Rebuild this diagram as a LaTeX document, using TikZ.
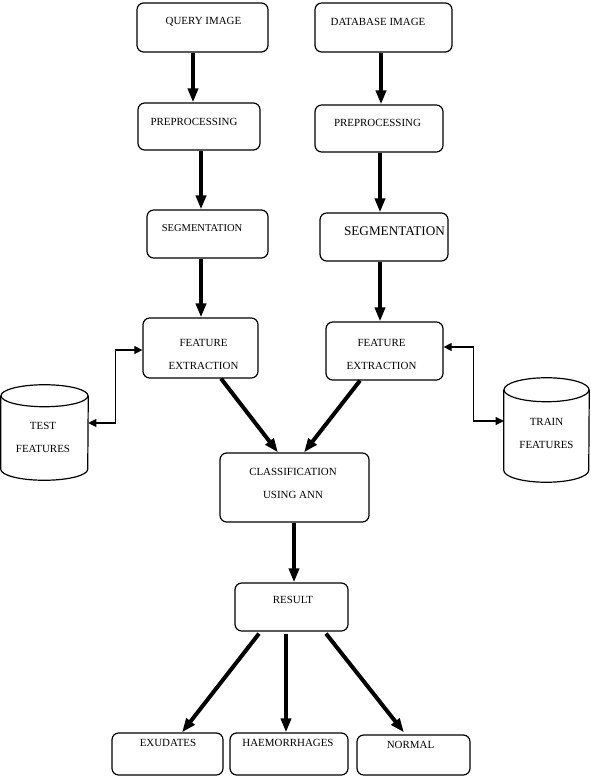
\documentclass[tikz,border=0pt]{standalone}
\usepackage{fontspec}
\setmainfont{Liberation Serif}
\usetikzlibrary{calc,arrows.meta}
\begin{document}
\begin{tikzpicture}[x=0.75pt,y=-0.75pt,
  box/.style={draw=black,line width=0.9pt,rounded corners=5pt,inner sep=0pt},
  txt/.style={inner sep=0pt,align=center,font=\fontsize{8.2}{17.25}\selectfont},
  big/.style={inner sep=0pt,font=\fontsize{9.9}{12}\selectfont},
  thk/.style={line width=3pt,-{Triangle[length=10.5pt,width=7.5pt]}},
  dbl/.style={line width=0.8pt,{Triangle[length=6pt,width=6pt]}-{Triangle[length=6pt,width=6pt]}},
  cylb/.style={inner sep=0pt}]
\useasboundingbox (0,0) rectangle (591,777);
% boxes
\node[box,minimum width=98.25pt,minimum height=36.75pt] (q) at (202.5,27.5) {};
\node[box,minimum width=102.75pt,minimum height=36.75pt] (d) at (383.5,27.5) {};
\node[box,minimum width=91.5pt,minimum height=35.25pt] (pl) at (199,126.5) {};
\node[box,minimum width=96pt,minimum height=35.25pt] (pr) at (379,128.5) {};
\node[box,minimum width=90.75pt,minimum height=36pt] (sl) at (207.5,234) {};
\node[box,minimum width=96pt,minimum height=36pt] (sr) at (384,237) {};
\node[box,minimum width=86.25pt,minimum height=45pt] (fel) at (200.5,348) {};
\node[box,minimum width=87.75pt,minimum height=43.5pt] (fer) at (384.5,351) {};
\node[box,minimum width=111.75pt,minimum height=51.75pt] (cls) at (294.5,487.5) {};
\node[box,minimum width=84.75pt,minimum height=36pt] (res) at (291.5,607) {};
\node[box,minimum width=83.25pt,minimum height=31.5pt] (ex) at (167.5,754) {};
\node[box,minimum width=88.5pt,minimum height=31.5pt] (ha) at (289,754) {};
\node[box,minimum width=84.75pt,minimum height=30pt] (no) at (413.5,755) {};
% cylinders
\node[cylb,minimum width=65.25pt,minimum height=71.25pt] (testc) at (44.5,432.5) {};
\node[cylb,minimum width=63.75pt,minimum height=78pt] (trainc) at (546.5,430) {};
\draw[line width=0.9pt] ($(testc.north west)+(0,11)$) -- ($(testc.south west)+(0,-11)$)
  arc[start angle=180,end angle=0,x radius=43.5,y radius=11] -- ($(testc.north east)+(0,11)$);
\draw[line width=0.9pt] ($(testc.north)+(0,11)$) ellipse[x radius=43.5,y radius=11];
\draw[line width=0.9pt] ($(trainc.north west)+(0,12)$) -- ($(trainc.south west)+(0,-12)$)
  arc[start angle=180,end angle=0,x radius=42.5,y radius=12] -- ($(trainc.north east)+(0,12)$);
\draw[line width=0.9pt] ($(trainc.north)+(0,12)$) ellipse[x radius=42.5,y radius=12];
% texts
\node[txt] (tq) at (203.5,22) {QUERY IMAGE};
\node[txt] (td) at (378,22) {DATABASE IMAGE};
\node[txt] (tpl) at (194,122) {PREPROCESSING};
\node[txt] (tpr) at (377.5,123) {PREPROCESSING};
\node[txt,font=\fontsize{7.9}{9}\selectfont] (tsl) at (202,228) {SEGMENTATION};
\node[big] (tsr) at (394.5,231) {SEGMENTATION};
\node[txt] (tfel) at (203.5,354.5) {FEATURE\\EXTRACTION};
\node[txt] (tfer) at (381.5,354.5) {FEATURE\\EXTRACTION};
\node[txt] (ttest) at (43,437.5) {TEST\\FEATURES};
\node[txt] (ttrain) at (546.5,433) {TRAIN\\FEATURES};
\node[txt] (tcls) at (293,483.5) {CLASSIFICATION\\USING ANN};
\node[txt] (tres) at (293,600) {RESULT};
\node[txt] (tex) at (168,743) {EXUDATES};
\node[txt] (tha) at (288,743) {HAEMORRHAGES};
\node[txt] (tno) at (410.5,745) {NORMAL};
% thick arrows
\draw[thk] ($(q.south)+(-9.5,0)$) -- ($(pl.north)+(-6,0)$);
\draw[thk] ($(pl.south)+(2,0)$) -- ($(sl.north)+(-6.5,0)$);
\draw[thk] ($(sl.south)+(-6.5,0)$) -- ($(fel.north)+(0.5,0)$);
\draw[thk] ($(d.south)+(-2.5,0)$) -- ($(pr.north)+(2,0)$);
\draw[thk] ($(pr.south)+(1,0)$) -- ($(sr.north)+(-4,0)$);
\draw[thk] ($(sr.south)+(-4,0)$) -- ($(fer.north)+(-4.5,0)$);
\draw[thk] ($(fel.south)+(20.5,0)$) -- ($(cls.north)+(-16.5,0)$);
\draw[thk] ($(fer.south)+(-24.5,0)$) -- ($(cls.north)+(9.5,0)$);
\draw[thk] ($(cls.south)+(-0.5,0)$) -- ($(res.north)+(2.5,0)$);
\draw[thk] ($(res.south)+(-32.5,2)$) -- ($(ex.north)+(14.5,0)$);
\draw[thk] ($(res.south)+(-5.5,2)$) -- ($(ha.north)+(-3,0)$);
\draw[thk] ($(res.south)+(34.5,2)$) -- ($(no.north)+(-9.5,-2)$);
% double arrows
\draw[dbl] ($(fel.west)+(0,2)$) -| ($(testc.east)+(27,-9.5)$) -- ($(testc.east)+(0,-9.5)$);
\draw[dbl] ($(fer.east)+(0,-4)$) -| ($(trainc.west)+(-30,-9)$) -- ($(trainc.west)+(0,-9)$);
\end{tikzpicture}
\end{document}
